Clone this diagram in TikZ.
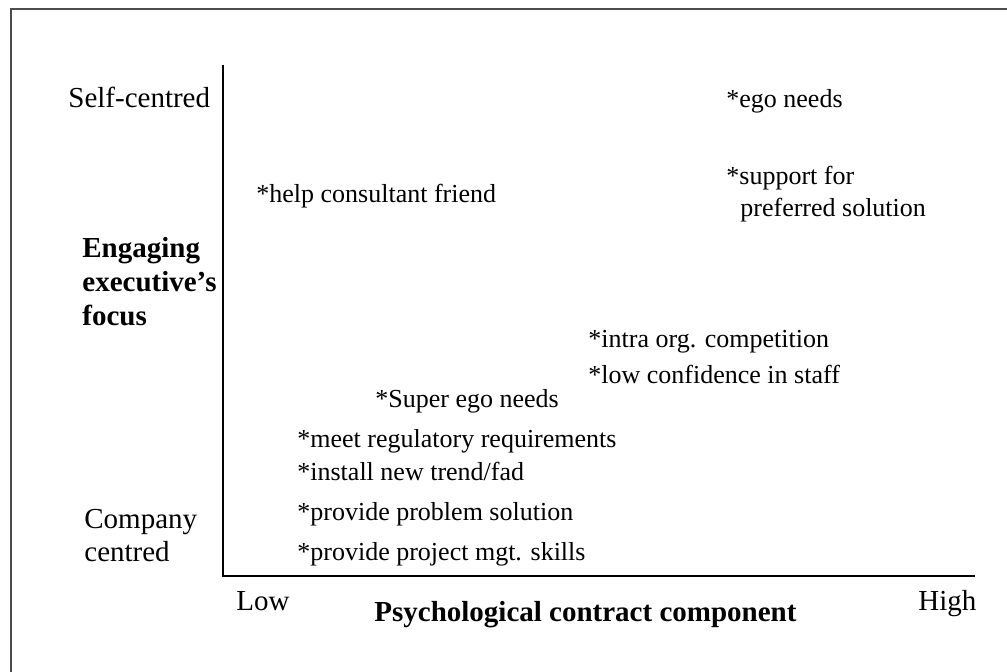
\documentclass[tikz,border=0pt]{standalone}
\usepackage{fontspec}
\setmainfont{Liberation Serif}
\begin{document}
\begin{tikzpicture}[x=0.5pt, y=-0.5pt,
  every node/.style={font=\fontsize{14.5}{17}\selectfont, inner sep=0pt},
  lbl/.style={anchor=base west},
  blk/.style={anchor=north west, align=left},
  item/.style={anchor=base west, font=\fontsize{13}{16}\selectfont},
  axisline/.style={line width=1.3pt, black},
  frameline/.style={line width=1pt, black!70}]
  \useasboundingbox (0,0) rectangle (1007,672);
  % Frame
  \draw[frameline] (11,672) -- (11,9) -- (1007,9);
  % Axes
  \coordinate (ytop) at (223,65);
  \coordinate (origin) at (223,576);
  \coordinate (xend) at (975,576);
  \draw[axisline] (ytop) -- (origin) -- (xend);
  % Axis end labels
  \node[lbl] (selfc) at (68,108) {Self-centred};
  \node[blk, font=\fontsize{14.5}{16.5}\selectfont] (compc) at (84,509) {Company\\centred};
  \node[lbl] (low) at (236,611) {Low};
  \node[lbl] (high) at (918,611) {High};
  % Axis titles
  \node[blk, font=\bfseries\fontsize{14.5}{17}\selectfont] (engf) at (82,237) {Engaging\\executive's\\focus};
  \node[lbl, font=\bfseries\fontsize{14.5}{17}\selectfont] (psych) at (374,622) {Psychological contract component};
  % Items
  \node[item] (egon) at (726,108) {*ego needs};
  \node[item, blk] (supp) at (726,166) {*support for\\\hspace{7pt}preferred solution};
  \node[item] (helpf) at (256,203) {*help consultant friend};
  \node[item] (intra) at (588,348) {*intra org. competition};
  \node[item] (lowconf) at (588,384) {*low confidence in staff};
  \node[item] (superego) at (375,408) {*Super ego needs};
  \node[item] (meetreg) at (297,448) {*meet regulatory requirements};
  \node[item] (install) at (297,481) {*install new trend/fad};
  \node[item] (probsol) at (297,521) {*provide problem solution};
  \node[item] (projmgt) at (297,561) {*provide project mgt. skills};
\end{tikzpicture}
\end{document}
